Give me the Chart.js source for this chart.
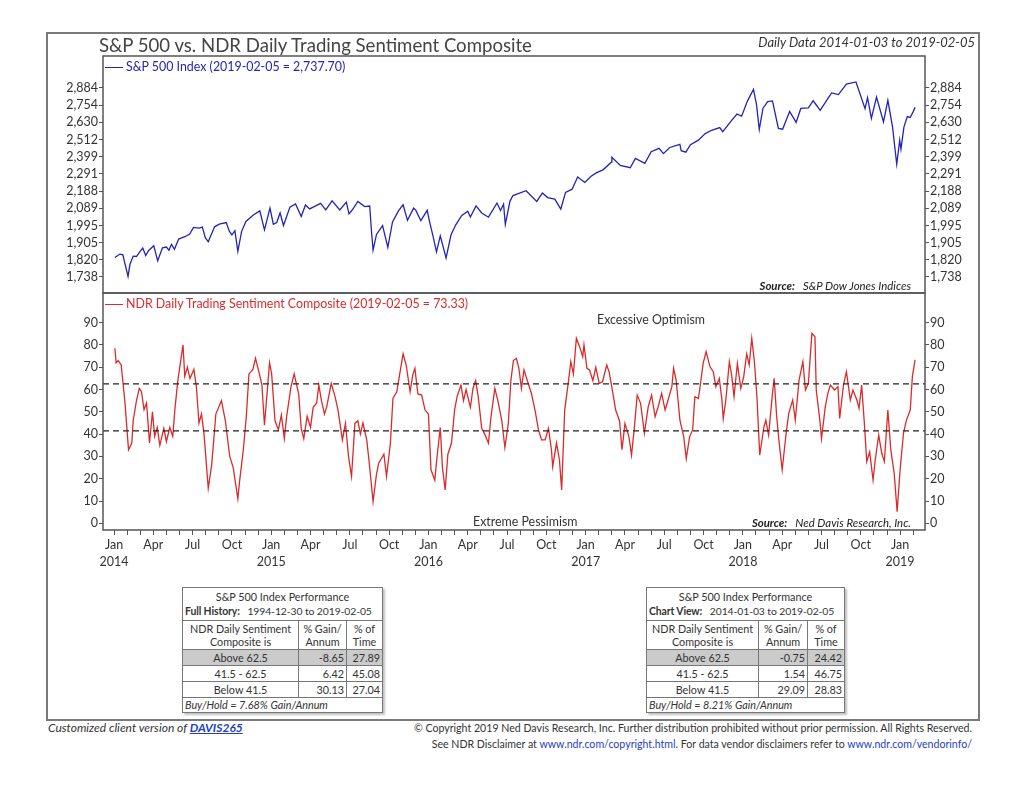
<!DOCTYPE html>
<html>
<head>
<meta charset="utf-8">
<title>S&amp;P 500 vs. NDR Daily Trading Sentiment Composite</title>
<script src="https://cdn.jsdelivr.net/npm/chart.js@4.4.1/dist/chart.umd.min.js"></script>
<style>
  body { margin: 0; background: #fff; font-family: Lato, "Open Sans", sans-serif; color: #333; }
  #page { position: relative; width: 1024px; height: 791px; overflow: hidden; }
  #frame { position: absolute; left: 46px; top: 32px; width: 930px; height: 685px; border: 2px solid #7a7a7a; }
  canvas { position: absolute; }
  .t { position: absolute; white-space: nowrap; line-height: 1; }
  .key { position: absolute; width: 18px; height: 0; }
  .perf { position: absolute; top: 587px; border-collapse: collapse; font-size: 10.8px; color: #333;
          background: #fff; box-shadow: 2px 2px 2px rgba(0,0,0,0.25); table-layout: fixed; }
  .perf td { border: 1px solid #777; padding: 0 2px; line-height: 14px; white-space: nowrap; overflow: hidden; }
  .perf .ttl { text-align: center; height: 32px; }
  .perf .ttl2 { display: block; text-align: left; font-size: 10.4px; letter-spacing: -0.1px; }
  .perf .hd td { text-align: center; height: 28px; line-height: 13.5px; }
  .perf .row td { height: 15px; }
  .perf .sh td { background: #cbcbcb; }
  .perf .c { text-align: center; }
  .perf .r { text-align: right; }
  .perf .bh { font-style: italic; height: 13px; }
  a { color: #1f3fbf; }
</style>
</head>
<body>
<div id="page">
  <div id="frame"></div>
  <canvas id="spxChart" width="932" height="257" style="left:46px; top:46px;"></canvas>
  <canvas id="sentChart" width="932" height="300" style="left:46px; top:283px;"></canvas>

  <div class="t" style="left:99px; top:36px; font-size:18.6px; color:#444;">S&amp;P 500 vs. NDR Daily Trading Sentiment Composite</div>
  <div class="t" style="right:49px; top:36px; font-size:13px; font-style:italic;">Daily Data 2014-01-03 to 2019-02-05</div>

  <div class="key" style="left:105px; top:67px; border-top:1.5px solid #2323b8;"></div>
  <div class="t" style="left:126px; top:61px; font-size:12.4px; color:#2323b8;">S&amp;P 500 Index (2019-02-05 = 2,737.70)</div>
  <div class="t" style="right:113px; top:280px; font-size:11.4px; font-style:italic; color:#222;"><b>Source:</b>&nbsp;&nbsp; S&amp;P Dow Jones Indices</div>

  <div class="key" style="left:105px; top:304px; border-top:1.5px solid #d92b2b;"></div>
  <div class="t" style="left:126px; top:298px; font-size:12.4px; color:#d92b2b;">NDR Daily Trading Sentiment Composite (2019-02-05 = 73.33)</div>
  <div class="t" style="left:597px; top:314px; font-size:12.4px;">Excessive Optimism</div>
  <div class="t" style="left:473px; top:516px; font-size:12.4px;">Extreme Pessimism</div>
  <div class="t" style="right:113px; top:517px; font-size:11.4px; font-style:italic; color:#222;"><b>Source:</b>&nbsp;&nbsp; Ned Davis Research, Inc.</div>

  <table class="perf" id="tblFull" style="left:182px; width:201px;"></table>
  <table class="perf" id="tblView" style="left:646px; width:199px;"></table>

  <div class="t" style="left:48px; top:722px; font-size:12px; font-style:italic;">Customized client version of <a href="#"><b>DAVIS265</b></a></div>
  <div class="t" style="right:52px; top:723px; font-size:10.6px;">&copy; Copyright 2019 Ned Davis Research, Inc. Further distribution prohibited without prior permission. All Rights Reserved.</div>
  <div class="t" style="right:52px; top:739px; font-size:10.6px;">See NDR Disclaimer at <span style="color:#1f3fbf">www.ndr.com/copyright.html</span>. For data vendor disclaimers refer to <span style="color:#1f3fbf">www.ndr.com/vendorinfo/</span></div>
</div>

<script>
// ---------- DATA ----------
const monthNames = ["Jan", "Feb", "Mar", "Apr", "May", "Jun", "Jul", "Aug", "Sep", "Oct", "Nov", "Dec"];

const spxTicks  = [1738, 1820, 1905, 1995, 2089, 2188, 2291, 2399, 2512, 2630, 2754, 2884];
const sentTicks = [0, 10, 20, 30, 40, 50, 60, 70, 80, 90];
const upperBand = 62.5;
const lowerBand = 41.5;

const spxDates = [
  "2014-01-03","2014-01-15","2014-01-22","2014-01-28","2014-02-03","2014-02-07","2014-02-14","2014-02-21",
  "2014-02-28","2014-03-07","2014-03-14","2014-03-21","2014-04-02","2014-04-11","2014-04-22","2014-05-01",
  "2014-05-07","2014-05-13","2014-05-20","2014-05-30","2014-06-13","2014-06-24","2014-07-03","2014-07-16",
  "2014-07-24","2014-07-31","2014-08-07","2014-08-22","2014-09-02","2014-09-18","2014-09-25","2014-10-01",
  "2014-10-08","2014-10-15","2014-10-24","2014-11-03","2014-11-20","2014-12-05","2014-12-16","2014-12-29",
  "2015-01-06","2015-01-14","2015-01-22","2015-01-30","2015-02-13","2015-02-25","2015-03-10","2015-03-20",
  "2015-03-30","2015-04-15","2015-04-24","2015-05-06","2015-05-21","2015-06-08","2015-06-23","2015-06-29",
  "2015-07-07","2015-07-20","2015-08-05","2015-08-17","2015-08-21","2015-08-25","2015-09-02","2015-09-16",
  "2015-09-28","2015-10-09","2015-10-23","2015-11-03","2015-11-13","2015-11-27","2015-12-02","2015-12-14",
  "2015-12-29","2016-01-04","2016-01-12","2016-01-20","2016-01-29","2016-02-11","2016-02-22","2016-03-04",
  "2016-03-18","2016-04-01","2016-04-07","2016-04-20","2016-05-03","2016-05-19","2016-06-08","2016-06-16",
  "2016-06-23","2016-06-27","2016-07-08","2016-07-15","2016-08-15","2016-09-09","2016-09-22","2016-10-04",
  "2016-10-21","2016-11-04","2016-11-15","2016-11-30","2016-12-13","2016-12-30","2017-01-13","2017-01-26",
  "2017-02-10","2017-02-28","2017-03-01","2017-03-21","2017-04-13","2017-04-25","2017-05-17","2017-06-01",
  "2017-06-19","2017-06-29","2017-07-14","2017-08-07","2017-08-10","2017-08-21","2017-09-01","2017-09-19",
  "2017-10-05","2017-10-20","2017-11-08","2017-11-15","2017-12-04","2017-12-18","2017-12-29","2018-01-12",
  "2018-01-26","2018-02-02","2018-02-08","2018-02-16","2018-02-26","2018-03-09","2018-03-23","2018-04-02",
  "2018-04-18","2018-05-03","2018-05-14","2018-06-01","2018-06-12","2018-06-28","2018-07-17","2018-07-25",
  "2018-08-10","2018-08-29","2018-09-20","2018-10-11","2018-10-17","2018-10-26","2018-11-07","2018-11-23",
  "2018-12-03","2018-12-14","2018-12-24","2018-12-31","2019-01-03","2019-01-10","2019-01-18","2019-01-25",
  "2019-02-01","2019-02-05"
];
const spxValues = [
  1831, 1848, 1844, 1792, 1741, 1797, 1838, 1836,
  1859, 1878, 1841, 1866, 1890, 1815, 1879, 1883,
  1867, 1897, 1872, 1924, 1936, 1949, 1985, 1981,
  1987, 1931, 1910, 1988, 2002, 2011, 1965, 1946,
  1968, 1862, 1964, 2017, 2052, 2075, 1972, 2090,
  2002, 2011, 2063, 1995, 2096, 2114, 2044, 2108,
  2086, 2106, 2117, 2080, 2131, 2080, 2124, 2058,
  2081, 2128, 2099, 2102, 1971, 1868, 1948, 1995,
  1881, 2014, 2075, 2109, 2023, 2090, 2079, 2021,
  2078, 2012, 1938, 1859, 1940, 1829, 1946, 2000,
  2050, 2073, 2041, 2103, 2063, 2040, 2119, 2077,
  2113, 2001, 2130, 2162, 2190, 2128, 2177, 2150,
  2141, 2085, 2180, 2199, 2272, 2239, 2275, 2297,
  2316, 2364, 2396, 2344, 2329, 2388, 2357, 2431,
  2453, 2419, 2459, 2480, 2438, 2428, 2477, 2508,
  2552, 2575, 2594, 2565, 2639, 2690, 2674, 2786,
  2873, 2762, 2581, 2732, 2780, 2786, 2588, 2582,
  2708, 2630, 2730, 2735, 2787, 2716, 2809, 2846,
  2833, 2914, 2931, 2728, 2810, 2658, 2814, 2633,
  2790, 2600, 2351, 2507, 2448, 2597, 2671, 2665,
  2707, 2738
];

const sentDates = [
  "2014-01-03","2014-01-06","2014-01-11","2014-01-18","2014-01-22","2014-01-27","2014-02-04","2014-02-11",
  "2014-02-14","2014-02-21","2014-02-27","2014-03-04","2014-03-10","2014-03-16","2014-03-23","2014-03-30",
  "2014-04-04","2014-04-10","2014-04-16","2014-04-25","2014-05-01","2014-05-09","2014-05-16","2014-05-21",
  "2014-05-28","2014-06-09","2014-06-13","2014-06-19","2014-06-25","2014-07-04","2014-07-10","2014-07-16",
  "2014-07-22","2014-07-28","2014-08-07","2014-08-15","2014-08-25","2014-09-07","2014-09-16","2014-09-26",
  "2014-10-04","2014-10-15","2014-10-19","2014-10-28","2014-11-04","2014-11-10","2014-11-19","2014-11-25",
  "2014-12-04","2014-12-10","2014-12-16","2014-12-28","2015-01-02","2015-01-10","2015-01-18","2015-01-25",
  "2015-02-01","2015-02-06","2015-02-15","2015-02-22","2015-03-04","2015-03-10","2015-03-16","2015-03-24",
  "2015-04-01","2015-04-07","2015-04-15","2015-04-20","2015-04-26","2015-05-03","2015-05-08","2015-05-19",
  "2015-05-28","2015-06-04","2015-06-14","2015-06-21","2015-06-28","2015-07-05","2015-07-13","2015-07-20",
  "2015-07-26","2015-08-01","2015-08-10","2015-08-16","2015-08-25","2015-09-02","2015-09-07","2015-09-19",
  "2015-09-25","2015-10-04","2015-10-10","2015-10-19","2015-10-25","2015-11-03","2015-11-10","2015-11-19",
  "2015-11-25","2015-11-30","2015-12-07","2015-12-16","2015-12-24","2016-01-01","2016-01-07","2016-01-16",
  "2016-01-22","2016-01-29","2016-02-03","2016-02-09","2016-02-15","2016-02-23","2016-03-01","2016-03-07",
  "2016-03-16","2016-03-22","2016-03-28","2016-04-07","2016-04-13","2016-04-19","2016-04-25","2016-05-03",
  "2016-05-10","2016-05-19","2016-05-25","2016-06-03","2016-06-10","2016-06-19","2016-06-26","2016-07-04",
  "2016-07-10","2016-07-16","2016-07-23","2016-07-29","2016-08-04","2016-08-10","2016-08-20","2016-08-28",
  "2016-09-05","2016-09-13","2016-09-20","2016-09-28","2016-10-06","2016-10-13","2016-10-16","2016-10-25",
  "2016-11-01","2016-11-06","2016-11-13","2016-11-21","2016-11-27","2016-12-03","2016-12-10","2016-12-18",
  "2016-12-25","2016-12-28","2017-01-04","2017-01-10","2017-01-18","2017-01-25","2017-02-02","2017-02-09",
  "2017-02-18","2017-02-23","2017-03-01","2017-03-10","2017-03-19","2017-03-25","2017-04-01","2017-04-10",
  "2017-04-16","2017-04-22","2017-04-29","2017-05-07","2017-05-16","2017-05-25","2017-06-02","2017-06-10",
  "2017-06-17","2017-06-25","2017-07-03","2017-07-10","2017-07-19","2017-07-23","2017-07-29","2017-08-07",
  "2017-08-16","2017-08-22","2017-08-30","2017-09-06","2017-09-11","2017-09-19","2017-09-22","2017-09-30",
  "2017-10-07","2017-10-16","2017-10-24","2017-10-30","2017-11-07","2017-11-13","2017-11-16","2017-11-22",
  "2017-11-30","2017-12-05","2017-12-11","2017-12-19","2017-12-27","2018-01-03","2018-01-10","2018-01-16",
  "2018-01-22","2018-01-28","2018-02-03","2018-02-09","2018-02-18","2018-02-22","2018-02-28","2018-03-09",
  "2018-03-13","2018-03-19","2018-03-25","2018-04-01","2018-04-10","2018-04-16","2018-04-25","2018-05-01",
  "2018-05-10","2018-05-19","2018-05-25","2018-06-01","2018-06-09","2018-06-16","2018-06-19","2018-06-28",
  "2018-07-01","2018-07-10","2018-07-16","2018-07-22","2018-08-01","2018-08-09","2018-08-13","2018-08-22",
  "2018-08-29","2018-09-07","2018-09-13","2018-09-22","2018-09-27","2018-10-03","2018-10-10","2018-10-15",
  "2018-10-22","2018-10-30","2018-11-04","2018-11-12","2018-11-19","2018-11-25","2018-12-03","2018-12-10",
  "2018-12-18","2018-12-25","2019-01-01","2019-01-09","2019-01-16","2019-01-25","2019-01-30","2019-02-05"
];
const sentValues = [
  78.5, 72, 73, 71, 63.5, 54, 33, 36,
  46, 55, 60.5, 59, 51, 54, 36, 50,
  39, 43, 35, 42.6, 36.6, 43, 39, 51,
  64, 80, 66, 70, 65, 69, 61, 45,
  49, 40, 15.7, 26, 49, 55, 46, 30,
  25, 11, 18.7, 33, 48, 67, 69, 74,
  67, 62, 44, 72, 67, 46, 42, 48.6,
  38, 48, 61, 67, 58, 42.6, 38, 48,
  43, 52, 54, 62, 55, 49, 52, 62.8,
  56.8, 50.8, 37.4, 44.8, 30, 21, 44.8, 46,
  40, 45, 37.4, 27, 9.7, 22, 27, 31,
  21, 36, 56, 59, 65.8, 76, 71, 59,
  66.5, 69.5, 58, 57.5, 50.8, 49, 24, 19.4,
  31, 43, 25, 15, 31, 36, 51, 57,
  62, 55, 60, 52, 60.5, 64, 56.8, 42.6,
  40, 36, 47.8, 60.5, 55, 46, 34, 44.8,
  64, 73, 74, 69.5, 60.5, 68.8, 62.8, 58,
  50.8, 41.9, 37.4, 37.4, 42.6, 33, 25.4, 36,
  28.4, 15, 50.8, 62.8, 72.5, 67, 83, 79,
  74.7, 80, 69.5, 68.8, 64, 70, 62.8, 63.5,
  71, 68, 61, 50.8, 46, 33, 44.8, 38.9,
  30.6, 41.9, 57.5, 53.8, 40.4, 52.3, 57.5, 47.8,
  52.3, 58.3, 50.8, 55.3, 61.3, 69.5, 64.3, 46.3,
  38.9, 29, 38.9, 41.9, 56.8, 56, 59.8, 71.7,
  77, 70.3, 68, 61.3, 65, 55.3, 47, 55.3,
  72.5, 67, 56.8, 71.7, 60.5, 65.8, 76, 71,
  83, 73, 56.8, 30.6, 43.3, 46.3, 39.6, 58.3,
  65, 47.8, 35.9, 24, 40.4, 49.3, 55.3, 46.3,
  64.3, 72.5, 59.8, 62.8, 85.2, 83.7, 59.8, 44.8,
  38, 52.3, 58.3, 62, 59.8, 61.3, 47, 62,
  68, 55.3, 59.8, 55.3, 51.6, 62, 43.3, 27.7,
  32, 19.4, 28.4, 39.6, 31.4, 27.7, 50.8, 32.9,
  22.4, 5.2, 24, 40.4, 46.3, 50.8, 65.8, 73.33
];

// performance tables: [label, gain/annum, % of time]
const fullRows = [["Above 62.5", "-8.65", "27.89"], ["41.5 - 62.5", "6.42", "45.08"], ["Below 41.5", "30.13", "27.04"]];
const viewRows = [["Above 62.5", "-0.75", "24.42"], ["41.5 - 62.5", "1.54", "46.75"], ["Below 41.5", "29.09", "28.83"]];

// ---------- HELPERS ----------
const X_MIN = -0.84;   // early Dec 2013
const X_MAX = 61.9;    // late Feb 2019
const SPX_MIN = 1665;
const SPX_MAX = 3142;
const SENT_MIN = -3;
const SENT_MAX = 103.3;

const BLUE = "#2323b8";
const RED  = "#d92b2b";
const AXIS = "#555";
const TEXT = "#333";

// months elapsed since 2014-01-01 (fractional)
function toMonths(s) {
  const [y, m, d] = s.split("-").map(Number);
  const dim = new Date(y, m, 0).getDate();
  return (y - 2014) * 12 + (m - 1) + (d - 1) / dim;
}

function toPoints(dates, values) {
  return dates.map((d, i) => ({ x: toMonths(d), y: values[i] }));
}

function monthLabel(v) {
  const m = ((v % 12) + 12) % 12;
  if (m % 3 !== 0) return "";
  if (m === 0) return [monthNames[0], String(2014 + Math.round(v / 12))];
  return monthNames[m];
}

const monthTicks = [];
for (let m = 0; m <= Math.floor(X_MAX); m++) monthTicks.push(m);

const framePlugin = {
  id: "frame",
  afterDraw(chart) {
    const { ctx, chartArea: a } = chart;
    ctx.save();
    ctx.strokeStyle = AXIS;
    ctx.lineWidth = 1.5;
    ctx.strokeRect(a.left, a.top, a.right - a.left, a.bottom - a.top);
    ctx.restore();
  }
};

function yAxis(position, min, max, tickList, width, fmt) {
  return {
    type: position.log ? "logarithmic" : "linear",
    position: position.side,
    min, max,
    bounds: "data",
    afterBuildTicks: (s) => { s.ticks = tickList.map(v => ({ value: v })); },
    afterFit: (s) => { s.width = width; },
    ticks: {
      autoSkip: false,
      padding: 1,
      color: TEXT,
      font: { family: "Lato", size: 12.5 },
      callback: fmt,
    },
    grid: { drawOnChartArea: false, tickLength: 4, color: AXIS, lineWidth: 1 },
    border: { display: false },
  };
}

const commaFmt = (v) => Number(v).toLocaleString("en-US");
const plainFmt = (v) => String(v);

// ---------- S&P 500 ----------
new Chart(document.getElementById("spxChart").getContext("2d"), {
  type: "line",
  data: {
    datasets: [{
      data: toPoints(spxDates, spxValues),
      borderColor: BLUE,
      borderWidth: 1.3,
      pointRadius: 0,
      tension: 0,
      yAxisID: "y",
    }],
  },
  options: {
    responsive: false,
    animation: false,
    layout: { padding: { top: 10, bottom: 10, left: 0, right: 0 } },
    plugins: { legend: { display: false }, tooltip: { enabled: false } },
    scales: {
      x: { type: "linear", min: X_MIN, max: X_MAX, bounds: "data", display: false },
      y: yAxis({ side: "left", log: true }, SPX_MIN, SPX_MAX, spxTicks, 57, commaFmt),
      y2: yAxis({ side: "right", log: true }, SPX_MIN, SPX_MAX, spxTicks, 53, commaFmt),
    },
  },
  plugins: [framePlugin],
});

// ---------- SENTIMENT ----------
function bandLine(level) {
  return {
    data: [{ x: X_MIN, y: level }, { x: X_MAX, y: level }],
    borderColor: "#222",
    borderWidth: 1.2,
    borderDash: [6, 4],
    pointRadius: 0,
    yAxisID: "y",
  };
}

new Chart(document.getElementById("sentChart").getContext("2d"), {
  type: "line",
  data: {
    datasets: [
      bandLine(upperBand),
      bandLine(lowerBand),
      {
        data: toPoints(sentDates, sentValues),
        borderColor: RED,
        borderWidth: 1.3,
        pointRadius: 0,
        tension: 0,
        yAxisID: "y",
      },
    ],
  },
  options: {
    responsive: false,
    animation: false,
    layout: { padding: { top: 10, bottom: 0, left: 0, right: 0 } },
    plugins: { legend: { display: false }, tooltip: { enabled: false } },
    scales: {
      x: {
        type: "linear",
        min: X_MIN, max: X_MAX,
        bounds: "data",
        afterBuildTicks: (s) => { s.ticks = monthTicks.map(v => ({ value: v })); },
        afterFit: (s) => { s.height = 53; },
        ticks: {
          autoSkip: false,
          maxRotation: 0,
          padding: 2,
          color: TEXT,
          font: { family: "Lato", size: 12.5, lineHeight: 1.35 },
          callback: monthLabel,
        },
        grid: { drawOnChartArea: false, tickLength: 5, color: AXIS },
        border: { display: false },
      },
      y: yAxis({ side: "left", log: false }, SENT_MIN, SENT_MAX, sentTicks, 57, plainFmt),
      y2: yAxis({ side: "right", log: false }, SENT_MIN, SENT_MAX, sentTicks, 53, plainFmt),
    },
  },
  plugins: [framePlugin],
});

// ---------- TABLES ----------
function fillTable(el, widths, label, range, rows, buyHold) {
  let html = `
    <colgroup><col style="width:${widths[0]}px"><col style="width:${widths[1]}px"><col></colgroup>
    <tr><td colspan="3" class="ttl">S&amp;P 500 Index Performance
      <span class="ttl2"><b>${label}</b>&nbsp;&nbsp; ${range}</span></td></tr>
    <tr class="hd"><td>NDR Daily Sentiment<br>Composite is</td><td>% Gain/<br>Annum</td><td>% of<br>Time</td></tr>`;
  rows.forEach((r, i) => {
    html += `<tr class="row${i === 0 ? " sh" : ""}"><td class="c">${r[0]}</td><td class="r">${r[1]}</td><td class="r">${r[2]}</td></tr>`;
  });
  html += `<tr><td colspan="3" class="bh">${buyHold}</td></tr>`;
  el.innerHTML = html;
}

fillTable(document.getElementById("tblFull"), [116, 48], "Full History:", "1994-12-30 to 2019-02-05", fullRows, "Buy/Hold = 7.68% Gain/Annum");
fillTable(document.getElementById("tblView"), [112, 49], "Chart View:", "2014-01-03 to 2019-02-05", viewRows, "Buy/Hold = 8.21% Gain/Annum");
</script>
</body>
</html>
